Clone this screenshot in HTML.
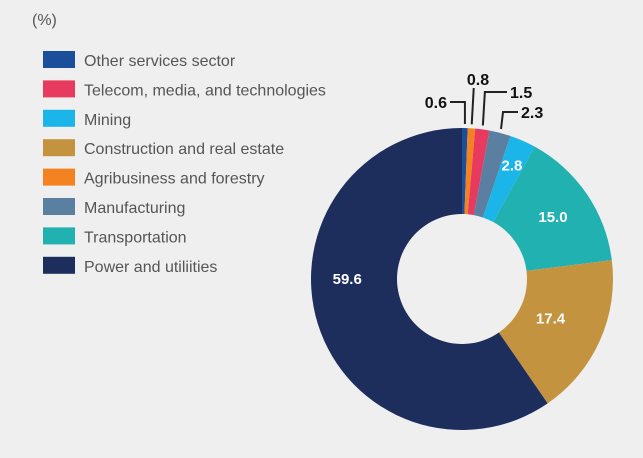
<!DOCTYPE html>
<html><head><meta charset="utf-8"><style>
body{margin:0;background:#efefef;font-family:"Liberation Sans",sans-serif;}
svg{display:block}
</style></head><body>
<svg width="643" height="458">
<rect width="643" height="458" fill="#efefef"/>
<text x="32" y="25" font-size="16" fill="#555">(%)</text>
<g id="legend"></g>
<g id="slices"></g>
<g id="labels"></g>
</svg>
<script>
const categories=["Other services sector","Agribusiness and forestry","Telecom, media, and technologies","Manufacturing","Mining","Transportation","Construction and real estate","Power and utiliities"];
const values=[0.6,0.8,1.5,2.3,2.8,15.0,17.4,59.6];
const colors=["#1b4f9c","#f58220","#e8395e","#5b7fa0","#1bb5ea","#22b1b1","#c4933f","#1d2d5c"];
const legendOrder=[0,2,4,6,1,3,5,7];
const NS="http://www.w3.org/2000/svg";
function mk(t,a,p){const e=document.createElementNS(NS,t);for(const k in a)e.setAttribute(k,a[k]);p.appendChild(e);return e;}
const cx=462,cy=279,R=151,r=65;
const total=values.reduce((a,b)=>a+b,0);
function pt(ang,rad){return [cx+rad*Math.sin(ang),cy-rad*Math.cos(ang)];}
const lg=document.getElementById('legend');
legendOrder.forEach((idx,i)=>{
  const y=60+i*29.4;
  const s=mk('rect',{x:43,y:y-9,width:32,height:17,fill:colors[idx]},lg);
  
  
  const t=mk('text',{x:84,y:y+6,'font-size':16,fill:'#555'},lg);
  t.textContent=categories[idx];
  
  
});
const sg=document.getElementById('slices'),lb=document.getElementById('labels');
let acc=0;
values.forEach((v,i)=>{
  const a0=acc/total*2*Math.PI;acc+=v;const a1=acc/total*2*Math.PI;
  const large=(a1-a0)>Math.PI?1:0;
  const [x0,y0]=pt(a0,R),[x1,y1]=pt(a1,R),[x2,y2]=pt(a1,r),[x3,y3]=pt(a0,r);
  const p=mk('path',{d:`M${x0},${y0}A${R},${R} 0 ${large} 1 ${x1},${y1}L${x2},${y2}A${r},${r} 0 ${large} 0 ${x3},${y3}Z`,fill:colors[i]},sg);
  
  
  const mid=(a0+a1)/2;
  if(v>=2.5){
    let lx,ly;
    if(v>50){lx=cx-R*0.76;ly=cy;}
    else{
      const rad=v<5?R-27:(v>16?97:110);
      [lx,ly]=pt(mid,rad);
    }
    const t=mk('text',{x:lx,y:ly+5,'font-size':15,'font-weight':'bold',fill:'#fff','text-anchor':'middle'},lb);
    t.textContent=v.toFixed(1);
    
    
  }else{
    const [ex,ey]=pt(mid,R+4);
    let pts,tx,ty,anchor;
    if(i===0){pts=`${ex},${ey} ${ex},102 450,102`;tx=447;ty=108;anchor='end';}
    else if(i===1){pts=`${ex},${ey} ${ex+2},88`;tx=478;ty=85;anchor='middle';}
    else if(i===2){pts=`${ex},${ey} ${ex+2},92 507,92`;tx=510;ty=98;anchor='start';}
    else {pts=`${ex},${ey} ${ex+2},112 518,112`;tx=521;ty=118;anchor='start';}
    const l=mk('polyline',{points:pts,fill:'none',stroke:'#222','stroke-width':2},lb);
    
    
    const t=mk('text',{x:tx,y:ty,'font-size':16,'font-weight':'bold',fill:'#111','text-anchor':anchor},lb);
    t.textContent=v.toFixed(1);
    
    
  }
});
</script>
</body></html>
